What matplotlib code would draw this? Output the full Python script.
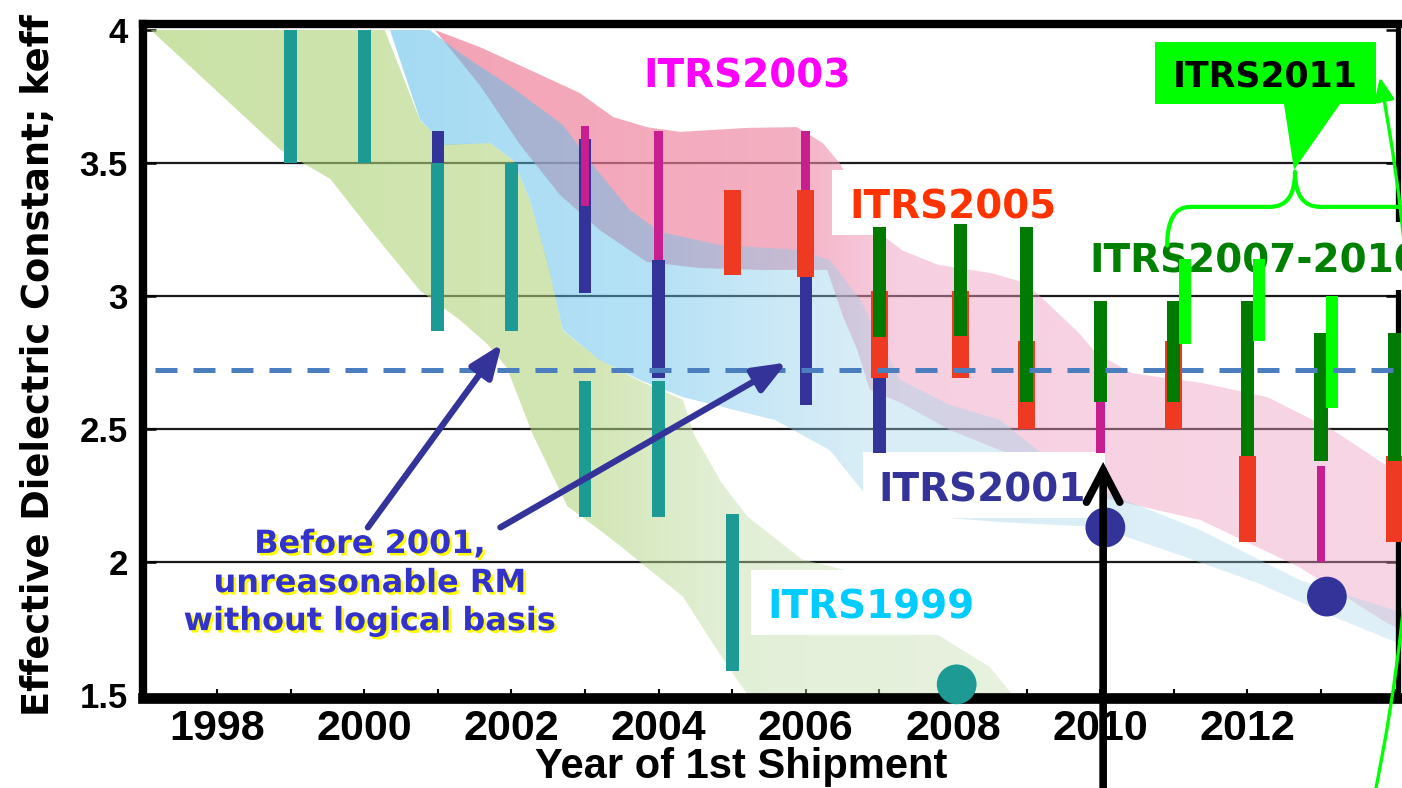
import numpy as np
import matplotlib
matplotlib.use("Agg")
import matplotlib.pyplot as plt
from matplotlib.patches import Polygon, Rectangle, PathPatch, FancyArrowPatch
from matplotlib.path import Path
from matplotlib.colors import to_rgb
import matplotlib.patheffects as pe

# ---------------- data ----------------
# ITRS1999 band (green)
band99_up_x = [1997.10, 2000.28, 2000.76, 2001.10, 2001.71, 2002.02, 2002.25, 2002.48, 2002.70,
               2003.20, 2003.75, 2004.33, 2004.48, 2004.85, 2005.21, 2005.95, 2006.67, 2007.77,
               2008.50, 2008.84]
band99_up_k = [4.00, 4.00, 3.66, 3.57, 3.575, 3.51, 3.36, 3.14, 2.87,
               2.76, 2.68, 2.61, 2.48, 2.30, 2.17, 2.01, 1.96, 1.73,
               1.605, 1.49]
band99_lo_x = [1997.10, 1998.86, 1999.54, 2000.08, 2000.76, 2001.30, 2001.67, 2001.94, 2002.29,
               2002.76, 2003.20, 2003.48, 2004.33, 2004.70, 2005.01, 2005.24, 2008.84]
band99_lo_k = [4.00, 3.55, 3.44, 3.25, 3.02, 2.91, 2.82, 2.73, 2.48,
               2.21, 2.12, 2.06, 1.87, 1.71, 1.58, 1.49, 1.49]

# ITRS2001 band (light blue)
band01_up_x = [2000.28, 2000.89, 2001.34, 2002.02, 2002.70, 2003.16, 2003.61, 2004.02, 2004.83,
               2005.92, 2006.33, 2006.74, 2007.28, 2007.96, 2008.64, 2009.32, 2010.00, 2011.36,
               2012.71, 2014.21]
band01_up_k = [4.00, 4.00, 3.906, 3.782, 3.643, 3.474, 3.323, 3.241, 3.192,
               3.173, 3.135, 2.985, 2.684, 2.59, 2.534, 2.383, 2.27, 2.12,
               1.932, 1.80]
band01_lo_x = [2000.35, 2000.76, 2001.10, 2001.71, 2002.02, 2002.25, 2002.48, 2002.70, 2003.20,
               2003.75, 2004.33, 2005.58, 2006.33, 2006.87, 2007.77, 2008.64, 2009.96, 2011.08,
               2012.14, 2013.12, 2014.21]
band01_lo_k = [4.00, 3.662, 3.568, 3.575, 3.511, 3.361, 3.135, 2.872, 2.759,
               2.684, 2.62, 2.534, 2.42, 2.233, 2.169, 2.15, 2.132, 2.026,
               1.921, 1.80, 1.677]

# ITRS2003/2005 band (pink)
band03_up_x = [2000.96, 2001.57, 2002.25, 2002.93, 2003.38, 2003.84, 2004.29, 2005.20, 2005.88,
               2006.23, 2006.46, 2006.74, 2007.08, 2007.32, 2007.80, 2008.52, 2008.99, 2009.24,
               2009.71, 2009.94, 2010.43, 2011.38, 2012.27, 2013.16, 2013.84, 2014.21]
band03_up_k = [4.00, 3.936, 3.85, 3.763, 3.673, 3.635, 3.617, 3.632, 3.635,
               3.575, 3.50, 3.36, 3.22, 3.17, 3.117, 3.086, 3.049, 2.985,
               2.861, 2.786, 2.71, 2.673, 2.62, 2.496, 2.372, 2.316]
band03_lo_x = [2000.96, 2001.57, 2002.12, 2002.66, 2003.20, 2003.84, 2004.56, 2005.38, 2006.29,
               2006.51, 2006.70, 2006.87, 2007.28, 2007.96, 2008.64, 2009.32, 2010.00, 2011.36,
               2012.71, 2013.84, 2014.21]
band03_lo_k = [4.00, 3.793, 3.568, 3.38, 3.248, 3.128, 3.105, 3.098, 3.098,
               2.921, 2.797, 2.647, 2.60, 2.496, 2.42, 2.346, 2.244, 2.158,
               1.98, 1.78, 1.726]

# Roadmap bars: year, lower keff, upper keff
itrs1999_years = [1999, 2000, 2001, 2002, 2003, 2004, 2005]
itrs1999_low = [3.50, 3.50, 2.87, 2.87, 2.17, 2.17, 1.59]
itrs1999_high = [4.00, 4.00, 3.50, 3.50, 2.68, 2.68, 2.18]

itrs2001_years = [2001, 2003, 2004, 2006, 2007]
itrs2001_low = [3.50, 3.01, 2.69, 2.59, 2.41]
itrs2001_high = [3.62, 3.59, 3.135, 3.07, 2.69]

itrs2003_years = [2003, 2004, 2006, 2010, 2013]
itrs2003_low = [3.34, 3.135, 3.40, 2.41, 2.00]
itrs2003_high = [3.64, 3.62, 3.62, 2.60, 2.36]

itrs2005_years = [2005, 2006, 2007, 2008.1, 2009, 2011, 2012, 2014]
itrs2005_low = [3.08, 3.07, 2.69, 2.69, 2.50, 2.50, 2.075, 2.075]
itrs2005_high = [3.40, 3.40, 3.02, 3.02, 2.83, 2.83, 2.40, 2.40]

itrs2007_years = [2007, 2008.1, 2009, 2010, 2011, 2012, 2013, 2014]
itrs2007_low = [2.845, 2.85, 2.60, 2.60, 2.60, 2.40, 2.38, 2.38]
itrs2007_high = [3.26, 3.27, 3.26, 2.98, 2.98, 2.98, 2.86, 2.86]

itrs2011_years = [2011.15, 2012.16, 2013.15]
itrs2011_low = [2.82, 2.83, 2.58]
itrs2011_high = [3.14, 3.14, 3.00]

itrs2001_dot_years = [2010.07, 2013.08]
itrs2001_dot_k = [2.13, 1.87]
itrs1999_dot_years = [2008.05]
itrs1999_dot_k = [1.54]

target_k = 2.72

x_ticks = list(range(1997, 2015))
x_tick_labels = [str(y) if (y % 2 == 0 and y <= 2012) else "" for y in x_ticks]
y_ticks = [1.5, 2.0, 2.5, 3.0, 3.5, 4.0]
y_tick_labels = ["1.5", "2", "2.5", "3", "3.5", "4"]

note_lines = ["Before 2001,", "unreasonable RM", "without logical basis"]

# ---------------- figure ----------------
XMIN, XMAX = 1996.995, 2014.046
YMIN, YMAX = 1.4887, 4.0226

fig = plt.figure(figsize=(14.02, 7.88), dpi=100)
ax = fig.add_axes([143 / 1402, 90 / 788, 1255 / 1402, 674 / 788])
ax.set_xlim(XMIN, XMAX)
ax.set_ylim(YMIN, YMAX)


def draw_band(up_x, up_k, lo_x, lo_k, stops, z):
    verts = np.column_stack([np.r_[up_x, lo_x[::-1]], np.r_[up_k, lo_k[::-1]]])
    poly = Polygon(verts, closed=True, fc="none", ec="none", transform=ax.transData)
    ax.add_patch(poly)
    n = 500
    xs = np.linspace(XMIN, XMAX, n)
    sx = [s[0] for s in stops]
    cols = np.array([to_rgb(s[1]) for s in stops])
    rgba = np.zeros((1, n, 4))
    for i in range(3):
        rgba[0, :, i] = np.interp(xs, sx, cols[:, i])
    rgba[0, :, 3] = np.interp(xs, sx, [s[2] for s in stops])
    im = ax.imshow(rgba, extent=(XMIN, XMAX, YMIN, YMAX), aspect="auto",
                   origin="lower", interpolation="bilinear", zorder=z)
    im.set_clip_path(poly)


draw_band(band99_up_x, band99_up_k, band99_lo_x, band99_lo_k,
          [(1997.0, "#aed276", 0.65), (2003.0, "#b2d47e", 0.58), (2005.0, "#c0dca6", 0.45),
           (2009.0, "#c8e0b4", 0.42)], 1.0)
draw_band(band03_up_x, band03_up_k, band03_lo_x, band03_lo_k,
          [(2000.5, "#ee7f97", 0.72), (2005.8, "#ef86a3", 0.66), (2007.3, "#ee9dc0", 0.48),
           (2014.3, "#ee9dc0", 0.42)], 1.1)
draw_band(band01_up_x, band01_up_k, band01_lo_x, band01_lo_k,
          [(2000.2, "#59bce9", 0.55), (2004.0, "#66c2ec", 0.48), (2006.8, "#9fd3ea", 0.40),
           (2014.3, "#a6d6ea", 0.36)], 1.2)
ax.set_xlim(XMIN, XMAX)
ax.set_ylim(YMIN, YMAX)

# gridlines & axes
ax.set_xticks(x_ticks)
ax.set_xticklabels(x_tick_labels)
ax.set_yticks(y_ticks)
ax.set_yticklabels(y_tick_labels)
ax.set_axisbelow(True)
ax.grid(axis="y", color="#1a1a1a", lw=1.6)
gl = ax.get_ygridlines()
gl[0].set_visible(False)
gl[-1].set_visible(False)

for lab in ax.get_xticklabels():
    lab.set_fontfamily("Liberation Sans")
    lab.set_fontweight("bold")
    lab.set_fontsize(31)
for lab in ax.get_yticklabels():
    lab.set_fontfamily("Liberation Sans")
    lab.set_fontweight("bold")
    lab.set_fontsize(25)

ax.tick_params(axis="x", direction="in", length=6.5, width=1.5, pad=8, color="black",
               top=False)
ax.tick_params(axis="y", direction="in", length=9, width=1.8, pad=11, color="black",
               right=True)

for side, lw in [("left", 6.0), ("top", 6.0), ("bottom", 7.7), ("right", 3.8)]:
    ax.spines[side].set_linewidth(lw)
    ax.spines[side].set_color("black")

ax.set_xlabel("Year of 1st Shipment", fontfamily="Liberation Sans", fontweight="bold",
              fontsize=30)
ax.xaxis.set_label_coords(0.477, -0.073)
ax.set_ylabel("Effective Dielectric Constant; keff", fontfamily="DejaVu Sans",
              fontweight="bold", fontsize=26.5)
ax.yaxis.set_label_coords(-0.0685, 0.494)

# white label boxes
boxes = [
    (2006.36, 3.229, 3.095, 0.245),
    (2006.78, 2.165, 3.29, 0.249),
    (2005.26, 1.726, 3.245, 0.244),
    (2009.73, 3.023, 4.6, 0.255),
]
for bx, by, bw, bh in boxes:
    ax.add_patch(Rectangle((bx, by), bw, bh, fc="white", ec="none", zorder=2.6,
                           clip_on=False))

# series labels
lbl_kw = dict(fontfamily="DejaVu Sans", fontweight="bold", fontsize=28, va="baseline",
              zorder=2.7)
ax.text(2005.208, 3.782, "ITRS2003", color="#ff00ff", ha="center", **lbl_kw)
ax.text(2008.0, 3.293, "ITRS2005", color="#ff3300", ha="center", **lbl_kw)
ax.text(2008.394, 2.2256, "ITRS2001", color="#333399", ha="center", **lbl_kw)
ax.text(2006.886, 1.789, "ITRS1999", color="#00ccff", ha="center", **lbl_kw)
ax.text(2009.848, 3.09, "ITRS2007-2010", color="#008000", ha="left", clip_on=False,
        **lbl_kw)

# bars
def draw_bars(years, low, high, width, color, z):
    ax.bar(years, np.array(high) - np.array(low), bottom=low, width=width, color=color,
           edgecolor="none", zorder=z, clip_on=False)


draw_bars(itrs2001_years, itrs2001_low, itrs2001_high, 0.17, "#333399", 3.0)
draw_bars(itrs2003_years, itrs2003_low, itrs2003_high, 0.12, "#c71f8f", 3.1)
draw_bars(itrs2005_years, itrs2005_low, itrs2005_high, 0.23, "#ee3a22", 3.2)
draw_bars(itrs2007_years, itrs2007_low, itrs2007_high, 0.18, "#007a00", 3.3)
draw_bars(itrs2011_years, itrs2011_low, itrs2011_high, 0.165, "#00ff00", 3.4)
draw_bars(itrs1999_years, itrs1999_low, itrs1999_high, 0.175, "#1e9a94", 3.5)

# dots
ax.scatter(itrs2001_dot_years, itrs2001_dot_k, s=820, color="#333399", zorder=4.5,
           edgecolors="none")
ax.scatter(itrs1999_dot_years, itrs1999_dot_k, s=820, color="#1e9a94", zorder=4.5,
           edgecolors="none", clip_on=False)

# target dashed line
dl, = ax.plot([1997.16, 2014.12], [target_k, target_k], color="#4a7ebf", lw=3.6,
              zorder=4, clip_on=False, solid_capstyle="butt", dash_capstyle="butt")
dl.set_dashes([4.4, 3.2])

# annotation note with arrows
note_k = [2.034, 1.887, 1.744]
for line, kk in zip(note_lines, note_k):
    ax.text(2000.08, kk, line, color="#3333cc", fontfamily="DejaVu Sans",
            fontweight="bold", fontsize=23, ha="center", va="baseline", zorder=5,
            path_effects=[pe.SimplePatchShadow(offset=(1.8, -1.8), shadow_rgbFace="#ffff00",
                                               alpha=1.0), pe.Normal()])

arrow_kw = dict(arrowstyle="-|>,head_length=0.8,head_width=0.32", lw=4.5, color="#333399",
                mutation_scale=25, shrinkA=0, shrinkB=0)
ax.annotate("", xy=(2001.87, 2.82), xytext=(2000.05, 2.13), arrowprops=arrow_kw, zorder=5)
ax.annotate("", xy=(2005.74, 2.75), xytext=(2001.85, 2.13), arrowprops=arrow_kw, zorder=5)

# black vertical arrow at 2010
ax.annotate("", xy=(2010.04, 2.376), xytext=(2010.04, 1.0), annotation_clip=False,
            arrowprops=dict(arrowstyle="->,head_length=1.15,head_width=0.6", lw=5.5,
                            color="black", mutation_scale=20, shrinkA=0, shrinkB=0,
                            clip_on=False, joinstyle="miter"), zorder=6)

# ITRS2011 callout
ax.add_patch(Rectangle((2010.745, 3.722), 3.002, 0.233, fc="#00ff00", ec="none", zorder=5))
ax.add_patch(Polygon([(2012.497, 3.722), (2013.258, 3.722), (2012.633, 3.474)], closed=True,
                     fc="#00ff00", ec="none", zorder=5))
ax.text(2012.239, 3.786, "ITRS2011", color="black", fontfamily="DejaVu Sans",
        fontweight="bold", fontsize=25, ha="center", va="baseline", zorder=5.5)

brace_left = Path([(2012.647, 3.466), (2012.647, 3.335), (2012.307, 3.335),
                   (2011.22, 3.335), (2010.91, 3.335), (2010.91, 3.19)],
                  [Path.MOVETO, Path.CURVE3, Path.CURVE3, Path.LINETO, Path.CURVE3, Path.CURVE3])
brace_right = Path([(2012.647, 3.466), (2012.647, 3.335), (2012.99, 3.335), (2014.25, 3.335)],
                   [Path.MOVETO, Path.CURVE3, Path.CURVE3, Path.LINETO])
for p in (brace_left, brace_right):
    ax.add_patch(PathPatch(p, fc="none", ec="#00ff00", lw=3.0, zorder=5, clip_on=False,
                           capstyle="round"))

garrow = FancyArrowPatch(posA=(2013.71, 1.10), posB=(2013.80, 3.823),
                         connectionstyle="arc3,rad=0.1",
                         arrowstyle="-|>,head_length=0.7,head_width=0.3",
                         mutation_scale=20, lw=2.4, color="#00ff00", zorder=5,
                         clip_on=False, shrinkA=0, shrinkB=0)
ax.add_patch(garrow)

fig.savefig("out.png", dpi=100)
